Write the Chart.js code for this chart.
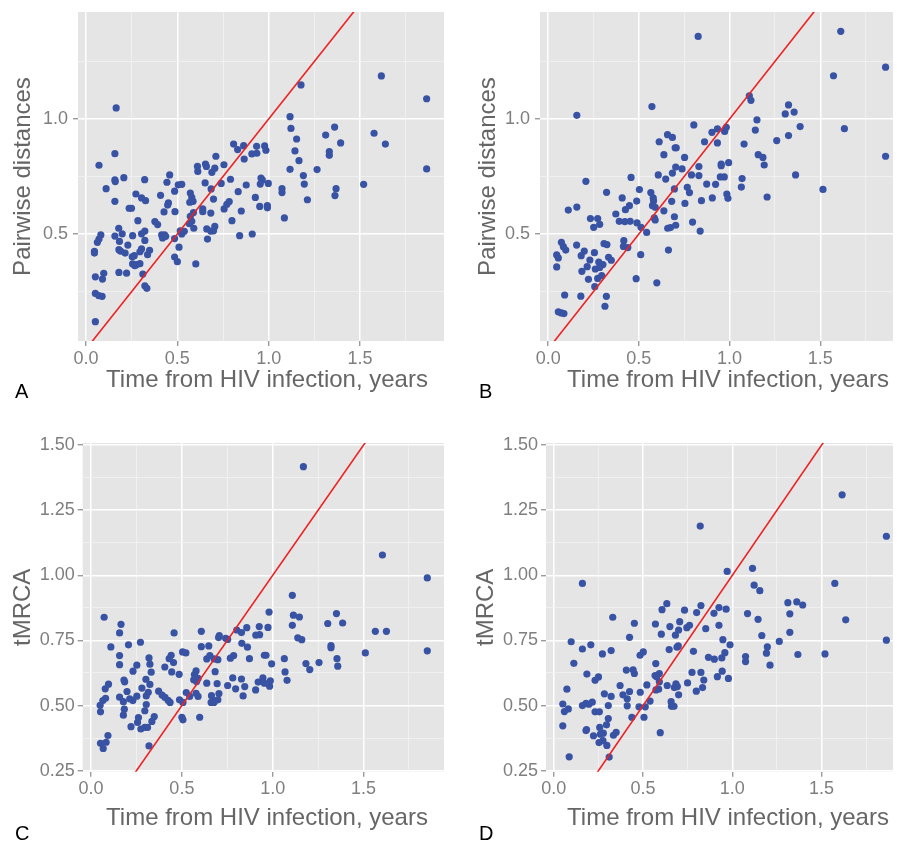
<!DOCTYPE html>
<html>
<head>
<meta charset="utf-8">
<title>Pairwise distances and tMRCA vs time from HIV infection</title>
<script src="https://cdn.jsdelivr.net/npm/chart.js@4.4.0/dist/chart.umd.min.js"></script>
<style>
  html, body { margin: 0; padding: 0; background: #fff; }
  #wrap { position: relative; width: 897px; height: 844px; overflow: hidden; }
  #wrap canvas { position: absolute; }
  .tag { position: absolute; font-family: "Liberation Sans", Arial, sans-serif; font-size: 20px; line-height: 20px; color: #000; }
</style>
</head>
<body>
<div id="wrap">
  <canvas id="chartA" width="450" height="420" style="left:0;top:-10px"></canvas>
  <canvas id="chartB" width="447" height="420" style="left:450px;top:-10px"></canvas>
  <canvas id="chartC" width="450" height="424" style="left:0;top:420px"></canvas>
  <canvas id="chartD" width="447" height="424" style="left:450px;top:420px"></canvas>
  <div class="tag" style="left:15px;top:381px">A</div>
  <div class="tag" style="left:479px;top:381px">B</div>
  <div class="tag" style="left:15px;top:823px">C</div>
  <div class="tag" style="left:479px;top:823px">D</div>
</div>
<script>
// valores (anos desde a infecção x distância / tMRCA)
const aTime = [0.165,0.158,0.071,0.158,0.160,0.207,0.110,0.158,0.321,0.273,0.304,0.326,0.236,0.249,0.284,0.179,0.198,0.158,0.081,0.071,
  0.062,0.046,0.046,0.183,0.229,0.180,0.189,0.214,0.255,0.304,0.322,0.322,0.304,0.295,0.348,0.337,0.264,0.253,0.255,0.277,
  0.295,0.267,0.051,0.090,0.097,0.180,0.222,0.311,0.322,0.333,0.051,0.070,0.088,0.051,
  0.408,0.458,0.443,0.451,0.447,0.485,0.427,0.487,0.377,0.392,0.414,0.430,0.419,0.436,0.485,0.509,0.485,0.500,0.601,0.505,
  0.524,0.571,0.579,0.568,0.586,0.588,0.571,0.579,0.566,0.590,0.516,0.538,0.524,
  0.610,0.612,0.654,0.659,0.711,0.705,0.689,0.755,0.652,0.685,0.740,0.791,0.698,0.639,0.639,0.683,0.661,0.683,0.698,0.705,
  0.665,0.799,0.756,0.771,0.784,0.850,0.841,0.910,0.833,0.877,0.808,0.830,0.863,0.866,0.908,0.935,0.934,0.978,0.985,0.958,
  0.965,0.954,0.998,0.927,0.951,0.993,0.993,
  1.117,1.122,1.153,1.144,1.166,1.117,1.190,1.195,1.212,1.073,1.073,1.086,1.177,1.265,1.312,1.332,1.332,1.361,1.394,1.369,
  1.363,1.520,1.577,1.617,1.639,1.865,1.865];
const aDist = [1.048,0.849,0.799,0.735,0.728,0.745,0.697,0.642,0.736,0.674,0.657,0.645,0.612,0.612,0.558,0.525,0.501,0.491,0.496,0.478,
  0.464,0.425,0.417,0.468,0.452,0.432,0.426,0.417,0.493,0.501,0.513,0.472,0.435,0.423,0.429,0.410,0.406,0.401,0.370,0.367,
  0.371,0.362,0.314,0.304,0.329,0.333,0.330,0.326,0.275,0.264,0.242,0.232,0.229,0.119,
  0.668,0.757,0.725,0.635,0.626,0.686,0.596,0.597,0.554,0.541,0.496,0.496,0.483,0.490,0.480,0.443,0.400,0.380,0.370,0.714,
  0.716,0.678,0.659,0.638,0.642,0.593,0.577,0.555,0.545,0.525,0.514,0.512,0.500,
  0.794,0.772,0.804,0.794,0.838,0.786,0.768,0.801,0.722,0.696,0.720,0.738,0.652,0.609,0.597,0.591,0.522,0.513,0.514,0.533,
  0.478,0.558,0.609,0.629,0.641,0.600,0.493,0.500,0.684,0.713,0.891,0.867,0.884,0.826,0.848,0.851,0.881,0.883,0.864,0.743,
  0.735,0.717,0.720,0.659,0.620,0.623,0.614,
  1.010,0.959,0.913,0.861,0.819,0.781,0.754,0.717,0.649,0.697,0.680,0.570,1.148,0.780,0.930,0.858,0.842,0.965,0.896,0.697,
  0.667,0.716,0.938,1.187,0.891,1.088,0.783];

const bTime = [0.827,0.572,0.158,0.803,0.612,0.658,0.685,0.638,0.700,0.706,
  0.752,0.703,0.738,0.685,0.648,0.607,0.457,0.208,0.322,0.408,
  0.448,0.426,0.503,0.488,0.566,0.579,0.581,0.575,0.590,0.696,
  0.681,0.638,0.696,0.754,0.767,0.779,0.790,0.831,0.831,0.874,
  0.845,0.905,0.923,0.796,0.838,0.659,0.674,0.703,0.663,0.585,
  0.590,0.512,0.543,0.392,0.423,0.452,0.490,0.373,0.233,0.273,
  0.251,0.284,0.111,0.158,0.073,0.084,0.097,0.157,0.047,0.056,
  0.047,0.199,0.182,0.255,0.230,0.186,0.215,0.279,0.302,0.260,
  0.284,0.308,0.324,0.333,0.348,0.417,0.415,0.439,0.510,0.222,
  0.273,0.295,0.257,0.485,0.599,0.091,0.180,0.321,0.313,0.056,
  0.073,0.087,0.862,0.903,0.933,0.933,0.954,0.954,0.995,0.949,
  0.971,0.985,0.991,0.973,0.982,
  1.109,1.118,1.151,1.142,1.080,1.158,1.184,1.191,1.069,1.065,1.207,1.260,1.307,1.325,1.356,1.325,1.389,1.364,1.515,1.573,
  1.613,1.633,1.860,1.860];
const bDist = [1.359,1.054,1.016,0.974,0.901,0.932,0.920,0.845,0.875,0.875,
  0.833,0.791,0.783,0.765,0.739,0.757,0.746,0.729,0.681,0.657,
  0.623,0.606,0.693,0.643,0.680,0.657,0.644,0.623,0.616,0.696,
  0.642,0.601,0.575,0.633,0.703,0.680,0.757,0.793,0.754,0.717,
  0.645,0.657,0.716,0.552,0.513,0.525,0.528,0.538,0.430,0.570,
  0.561,0.529,0.507,0.555,0.554,0.555,0.548,0.587,0.567,0.567,
  0.529,0.542,0.604,0.617,0.464,0.445,0.430,0.452,0.409,0.396,
  0.357,0.426,0.406,0.419,0.387,0.338,0.358,0.378,0.367,0.348,
  0.355,0.458,0.454,0.399,0.386,0.471,0.446,0.441,0.410,0.303,
  0.307,0.319,0.271,0.306,0.288,0.235,0.230,0.229,0.186,0.162,
  0.157,0.154,0.901,0.942,0.957,0.896,0.804,0.797,0.810,0.748,
  0.748,0.674,0.655,0.946,0.964,
  1.101,1.081,0.996,0.952,0.891,0.845,0.833,0.800,0.741,0.704,0.661,0.906,1.022,1.061,1.030,0.928,0.967,0.757,0.694,1.188,
  1.381,0.958,1.225,0.838];

const cTime = [0.072,0.165,0.157,0.109,0.206,0.272,0.457,0.607,0.157,0.157,
  0.252,0.231,0.319,0.324,0.331,0.441,0.430,0.454,0.406,0.444,
  0.485,0.504,0.522,0.607,0.648,0.702,0.706,0.741,0.752,0.802,
  0.828,0.857,0.926,0.974,0.980,0.907,0.928,0.830,0.861,0.872,
  0.767,0.785,0.954,0.963,0.994,0.637,0.654,0.678,0.698,0.683,
  0.578,0.569,0.565,0.589,0.581,0.637,0.694,0.780,0.828,0.752,
  0.796,0.846,0.837,0.906,0.920,0.946,0.954,0.983,0.987,0.578,
  0.589,0.663,0.680,0.698,0.704,0.661,0.676,0.524,0.543,0.487,
  0.506,0.500,0.506,0.598,0.372,0.391,0.424,0.435,0.407,0.280,
  0.302,0.324,0.315,0.304,0.304,0.296,0.252,0.230,0.213,0.198,
  0.181,0.185,0.157,0.178,0.183,0.178,0.078,0.096,0.080,0.065,
  0.050,0.052,0.220,0.261,0.256,0.274,0.296,0.311,0.348,0.335,
  0.319,0.093,0.083,0.052,0.067,
  1.169,1.108,1.114,1.147,1.108,1.138,1.160,1.183,1.204,1.064,1.068,1.079,1.255,1.303,1.351,1.385,1.321,1.321,1.354,1.358,
  1.510,1.565,1.626,1.604,1.851,1.851];
const cTmrca = [0.839,0.812,0.779,0.725,0.733,0.743,0.779,0.785,0.692,0.657,
  0.655,0.632,0.683,0.659,0.628,0.693,0.680,0.665,0.648,0.629,
  0.620,0.706,0.702,0.726,0.729,0.761,0.769,0.758,0.754,0.790,
  0.780,0.799,0.803,0.800,0.859,0.770,0.772,0.739,0.724,0.680,
  0.682,0.692,0.693,0.693,0.660,0.679,0.692,0.679,0.676,0.630,
  0.633,0.619,0.599,0.604,0.592,0.586,0.584,0.606,0.602,0.577,
  0.564,0.573,0.537,0.560,0.590,0.606,0.586,0.574,0.595,0.547,
  0.535,0.538,0.518,0.522,0.546,0.512,0.512,0.550,0.535,0.522,
  0.512,0.455,0.445,0.455,0.555,0.540,0.520,0.512,0.531,0.567,
  0.601,0.581,0.551,0.537,0.504,0.480,0.536,0.519,0.526,0.554,
  0.598,0.591,0.532,0.515,0.486,0.463,0.564,0.582,0.528,0.519,
  0.501,0.476,0.419,0.454,0.435,0.410,0.416,0.416,0.458,0.439,
  0.345,0.385,0.359,0.355,0.335,
  1.417,0.923,0.847,0.840,0.808,0.760,0.753,0.661,0.638,0.680,0.629,0.597,0.665,0.815,0.853,0.817,0.730,0.722,0.680,0.651,
  0.702,0.785,0.785,1.078,0.990,0.710];

const dTime = [0.820,0.160,0.971,0.330,0.451,0.424,0.633,0.606,0.569,0.602,
  0.650,0.705,0.699,0.681,0.732,0.745,0.760,0.800,0.824,0.851,
  0.897,0.925,0.965,0.925,0.947,0.987,0.958,0.941,0.866,0.899,
  0.943,0.916,0.978,0.774,0.824,0.840,0.798,0.833,0.749,0.646,
  0.690,0.697,0.782,0.571,0.567,0.576,0.591,0.591,0.572,0.587,
  0.635,0.684,0.692,0.675,0.699,0.657,0.659,0.673,0.596,0.483,
  0.501,0.444,0.451,0.406,0.521,0.484,0.539,0.477,0.512,0.505,
  0.371,0.424,0.387,0.411,0.411,0.437,0.321,0.272,0.207,0.160,
  0.097,0.112,0.185,0.231,0.250,0.283,0.321,0.073,0.050,0.059,
  0.081,0.160,0.180,0.196,0.215,0.231,0.255,0.305,0.305,0.295,
  0.257,0.277,0.261,0.334,0.349,0.183,0.180,0.222,0.253,0.275,
  0.297,0.050,0.086,0.310,
  1.113,1.122,1.154,1.085,1.144,1.165,1.196,1.191,1.211,1.074,1.074,1.263,1.311,1.322,1.322,1.361,1.394,1.367,1.519,1.574,
  1.615,1.635,1.863,1.863];
const dTmrca = [1.189,0.969,1.015,0.839,0.816,0.762,0.891,0.868,0.813,0.774,
  0.803,0.822,0.790,0.770,0.866,0.799,0.808,0.857,0.884,0.795,
  0.854,0.876,0.870,0.808,0.753,0.733,0.703,0.683,0.685,0.678,
  0.632,0.611,0.604,0.627,0.627,0.598,0.555,0.569,0.587,0.715,
  0.724,0.729,0.708,0.661,0.615,0.611,0.623,0.591,0.560,0.563,
  0.577,0.583,0.573,0.569,0.541,0.515,0.497,0.497,0.396,0.693,
  0.706,0.637,0.623,0.636,0.579,0.551,0.517,0.495,0.495,0.455,
  0.577,0.554,0.541,0.526,0.499,0.455,0.711,0.698,0.733,0.717,
  0.745,0.662,0.621,0.597,0.610,0.545,0.535,0.563,0.506,0.477,
  0.487,0.500,0.508,0.505,0.513,0.476,0.476,0.500,0.450,0.426,
  0.416,0.394,0.390,0.386,0.397,0.408,0.404,0.384,0.358,0.365,
  0.347,0.422,0.303,0.302,
  1.027,0.962,0.941,0.853,0.831,0.769,0.725,0.701,0.655,0.688,0.669,0.746,0.895,0.852,0.781,0.898,0.886,0.696,0.698,0.969,
  1.309,0.829,1.150,0.751];

// reta y = x (identidade), extremos em anos
const refLineX = [-0.2, 2.2];

const FONT = '"Liberation Sans", Arial, Helvetica, sans-serif';
const X_TITLE = 'Time from HIV infection, years';

// fundo cinza do painel, estilo ggplot
const panelBg = {
    id: 'panelBg',
    beforeDraw(chart) {
        const { ctx, chartArea: a } = chart;
        ctx.save();
        ctx.fillStyle = '#e5e5e5';
        ctx.fillRect(a.left, a.top, a.right - a.left, a.bottom - a.top);
        ctx.restore();
    }
};

// título do eixo x desenhado à mão (o ggplot não centraliza exatamente na área do gráfico)
const xTitlePlugin = {
    id: 'xTitle',
    afterDraw(chart, args, opts) {
        const ctx = chart.ctx;
        ctx.save();
        ctx.font = '24px ' + FONT;
        ctx.fillStyle = '#666666';
        ctx.textAlign = 'center';
        ctx.textBaseline = 'alphabetic';
        ctx.fillText(X_TITLE, opts.cx, opts.base);
        ctx.restore();
    }
};

function isMajor(v, major) {
    const r = v / major;
    return Math.abs(r - Math.round(r)) < 1e-6;
}

function gridOpts(major) {
    return {
        color: c => (c.tick && isMajor(c.tick.value, major)) ? '#ffffff' : '#f3f3f3',
        lineWidth: c => (c.tick && isMajor(c.tick.value, major)) ? 1.5 : 0.8,
        tickColor: c => (c.tick && isMajor(c.tick.value, major)) ? '#8a8a8a' : 'rgba(0,0,0,0)',
        tickWidth: 1.2,
        tickLength: 5,
        drawTicks: true
    };
}

function makePanel(id, xs, ys, cfg) {
    const pontos = xs.map((x, i) => ({ x: x, y: ys[i] }));
    const reta = refLineX.map(v => ({ x: v, y: v }));

    new Chart(document.getElementById(id), {
        type: 'scatter',
        data: {
            datasets: [
                {
                    type: 'line',
                    data: reta,
                    borderColor: '#ec2224',
                    borderWidth: 1.6,
                    pointRadius: 0,
                    fill: false,
                    tension: 0,
                    clip: 0
                },
                {
                    data: pontos,
                    backgroundColor: '#3953a4',
                    borderWidth: 0,
                    pointRadius: 3.6
                }
            ]
        },
        options: {
            responsive: false,
            animation: false,
            events: [],
            layout: { padding: cfg.pad },
            plugins: {
                legend: { display: false },
                tooltip: { enabled: false },
                xTitle: { cx: cfg.xtX, base: cfg.xtBase }
            },
            scales: {
                x: {
                    type: 'linear',
                    min: cfg.xMin,
                    max: cfg.xMax,
                    afterFit: s => { s.height = cfg.xH; },
                    border: { display: false },
                    grid: gridOpts(0.5),
                    ticks: {
                        stepSize: 0.25,
                        includeBounds: false,
                        autoSkip: false,
                        maxRotation: 0,
                        padding: 2,
                        color: '#7f7f7f',
                        font: { family: FONT, size: 18 },
                        callback: v => isMajor(v, 0.5) ? v.toFixed(1) : ''
                    }
                },
                y: {
                    type: 'linear',
                    min: cfg.yMin,
                    max: cfg.yMax,
                    afterFit: s => { s.width = cfg.yW; },
                    border: { display: false },
                    grid: gridOpts(cfg.yMajor),
                    ticks: {
                        stepSize: cfg.yStep,
                        includeBounds: false,
                        autoSkip: false,
                        padding: cfg.yTickPad,
                        color: '#7f7f7f',
                        font: { family: FONT, size: 18 },
                        callback: v => isMajor(v, cfg.yMajor) ? v.toFixed(cfg.yDec) : ''
                    },
                    title: {
                        display: true,
                        text: cfg.yTitle,
                        color: '#666666',
                        font: { family: FONT, size: 24 },
                        padding: { top: cfg.ytPad, bottom: 0 }
                    }
                }
            }
        },
        plugins: [panelBg, xTitlePlugin]
    });
}

const topRow = { yMin: 0.035, yMax: 1.465, yStep: 0.25, yMajor: 0.5, yDec: 1, yTitle: 'Pairwise distances', xH: 69, xtBase: 396.5, yTickPad: 5 };
const bottomRow = { yMin: 0.246, yMax: 1.508, yStep: 0.125, yMajor: 0.25, yDec: 2, yTitle: 'tMRCA', xH: 72.3, xtBase: 404.5, yTickPad: 3 };

makePanel('chartA', aTime, aDist, Object.assign({}, topRow, {
    xMin: -0.044, xMax: 1.96, yW: 78, ytPad: 9.4, xtX: 267, pad: { top: 22, right: 6, left: 0, bottom: 0 }
}));
makePanel('chartB', bTime, bDist, Object.assign({}, topRow, {
    xMin: -0.045, xMax: 1.901, yW: 90, ytPad: 24.4, xtX: 278, pad: { top: 22, right: 0, left: 0, bottom: 0 }
}));
makePanel('chartC', cTime, cTmrca, Object.assign({}, bottomRow, {
    xMin: -0.046, xMax: 1.943, yW: 82.7, ytPad: 9.1, xtX: 267, pad: { top: 23, right: 6, left: 0, bottom: 0 }
}));
makePanel('chartD', dTime, dTmrca, Object.assign({}, bottomRow, {
    xMin: -0.044, xMax: 1.900, yW: 96, ytPad: 22.1, xtX: 278, pad: { top: 23, right: 0, left: 0, bottom: 0 }
}));
</script>
</body>
</html>
